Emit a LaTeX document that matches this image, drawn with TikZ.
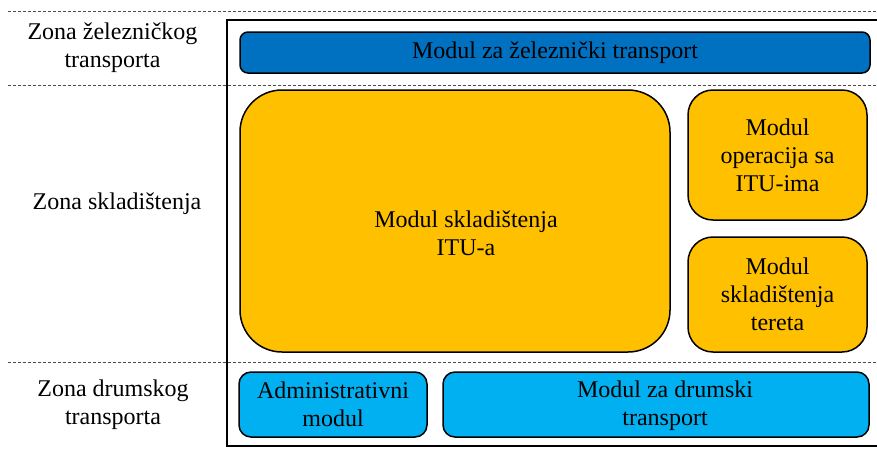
\documentclass[tikz,border=0pt]{standalone}
\usepackage{fontspec}
\setmainfont{Liberation Serif}
\usetikzlibrary{positioning}
\definecolor{zelblue}{HTML}{0070C0}
\definecolor{skladyellow}{HTML}{FFC000}
\definecolor{drumblue}{HTML}{00B0F0}

\begin{document}
\begin{tikzpicture}[x=1pt, y=-1pt,
    modul/.style={draw=black, line width=1.5pt, inner sep=0pt, align=center,
      font=\fontsize{24}{28}\selectfont},
    tekst/.style={inner sep=0pt, align=center, font=\fontsize{24}{28}\selectfont},
    granica/.style={dash pattern=on 3pt off 2pt, line width=0.8pt, color=black!70}]
    \useasboundingbox (0,0) rectangle (877,448);

    % zone boundaries
    \foreach \y in {11, 85, 362} {
        \draw[granica] (8,\y) -- (877,\y);
    }

    % terminal frame
    \coordinate (okvirA) at (877,20);
    \coordinate (okvirB) at (227,20);
    \coordinate (okvirC) at (227,446);
    \coordinate (okvirD) at (877,446);
    \draw[line width=1.5pt] (okvirA) -- (okvirB) -- (okvirC) -- (okvirD);

    % zone names
    \node[tekst] (zonaZel) at (112.5,47.5) {Zona železničkog\\transporta};
    \node[tekst, anchor=base] (zonaSkl) at (117,209) {Zona skladištenja};
    \node[tekst] (zonaDrum) at (113,404.5) {Zona drumskog\\transporta};

    % modules
    \node[modul, fill=zelblue, minimum width=630pt, minimum height=41pt,
      rounded corners=8pt] (zel) at (555,52.5) {Modul za železnički transport};
    \node[modul, fill=skladyellow, minimum width=430pt, minimum height=262pt,
      rounded corners=42pt] (sklITU) at (455,221) {};
    \node[tekst] (sklITUtekst) at (466,233.5) {Modul skladištenja\\ITU-a};
    \node[modul, fill=skladyellow, minimum width=179pt, minimum height=130pt,
      rounded corners=25pt] (oper) at (777.5,155) {Modul\\operacija sa\\ITU-ima};
    \node[modul, fill=skladyellow, minimum width=179pt, minimum height=115pt,
      rounded corners=25pt] (teret) at (777.5,294.5) {Modul\\skladištenja\\tereta};
    \node[modul, fill=drumblue, minimum width=188pt, minimum height=65pt,
      rounded corners=12pt] (admin) at (333,404.5) {Administrativni\\modul};
    \node[modul, fill=drumblue, minimum width=426pt, minimum height=65pt,
      rounded corners=12pt] (drum) at (656,404.5) {};
    \node[tekst] (drumtekst) at (665,405.5) {Modul za drumski\\transport};
\end{tikzpicture}
\end{document}
